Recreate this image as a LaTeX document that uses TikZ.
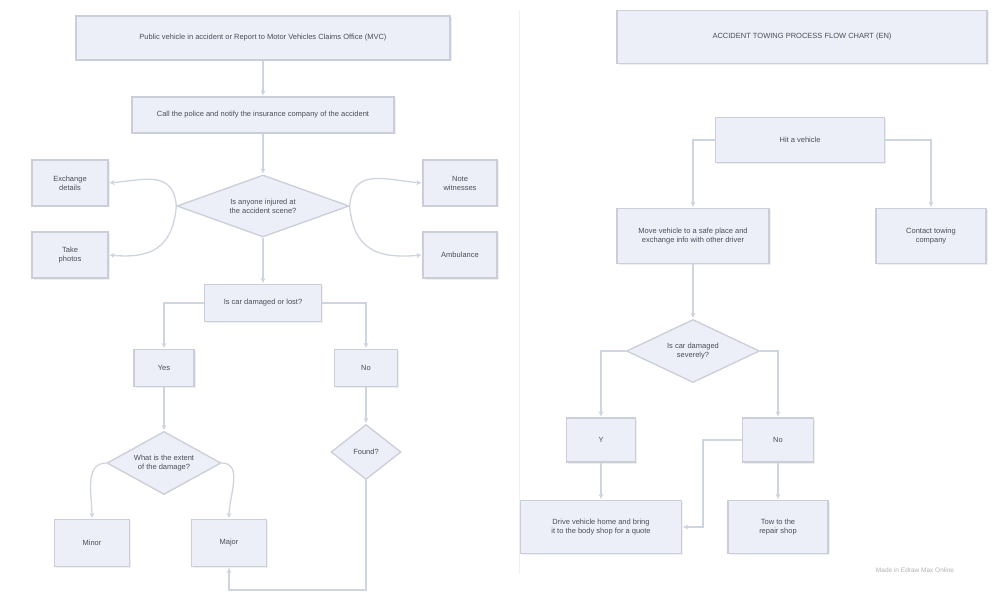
\documentclass[tikz,border=0pt]{standalone}
\usepackage{fontspec}
\setmainfont{Liberation Sans}
\usetikzlibrary{shapes.geometric,shadows,arrows.meta}
\definecolor{boxfill}{HTML}{ECEFF7}
\definecolor{boxline}{HTML}{CACED7}
\definecolor{linkline}{HTML}{CFD5DF}
\definecolor{textgray}{HTML}{4A4E58}

\begin{document}
\begin{tikzpicture}[x=1pt,y=-1pt,shorten >=1pt,->,>={Stealth[length=5pt,width=5pt]}]
        \tikzstyle{box}=[rectangle,draw=boxline,line width=1.3pt,fill=boxfill,align=center,text=textgray,font=\fontsize{7.5}{9}\selectfont,drop shadow={opacity=0.12,shadow xshift=1.5pt,shadow yshift=-1.5pt}]
        \tikzstyle{decision}=[diamond,draw=boxline,line width=1.3pt,fill=boxfill,align=center,text=textgray,inner sep=0pt,font=\fontsize{7.5}{9}\selectfont]
        \tikzstyle{edge}=[draw=linkline,line width=1.3pt]

        \fill[white] (0,0) rectangle (1008,612);
        \useasboundingbox (0,0) rectangle (1008,612);

        % left chart
        \begin{scope}
                \node [box,minimum width=374,minimum height=44] (ltitle) at (263,38) {Public vehicle in accident or Report to Motor Vehicles Claims Office (MVC)};
                \node [box,minimum width=262,minimum height=36] (report) at (263,115) {Call the police and notify the insurance company of the accident};
                \node [decision,aspect=2.9,minimum width=172,minimum height=62] (injury) at (263,206) {Is anyone injured at\\the accident scene?};
                \node [box,minimum width=76,minimum height=46] (swap) at (70,183) {Exchange\\details};
                \node [box,minimum width=76,minimum height=46] (photo) at (70,255) {Take\\photos};
                \node [box,minimum width=74,minimum height=46] (witness) at (460,183) {Note\\witnesses};
                \node [box,minimum width=74,minimum height=46] (ambulance) at (460,255) {Ambulance};
                \node [box,minimum width=117,minimum height=37] (damage) at (263,303) {Is car damaged or lost?};
                \node [box,minimum width=60,minimum height=37] (damaged) at (164,368) {Yes};
                \node [box,minimum width=63,minimum height=37] (lost) at (366,368) {No};
                \node [decision,aspect=1.9,minimum width=114,minimum height=63] (level) at (164,463) {What is the extent\\of the damage?};
                \node [decision,aspect=1.3,minimum width=70,minimum height=55] (found) at (366,452) {Found?};
                \node [box,minimum width=75,minimum height=47] (minor) at (92,543) {Minor};
                \node [box,minimum width=75,minimum height=47] (major) at (229,543) {Major};
                \coordinate (back) at (366,590);

                \draw[edge] (ltitle) -- (report);
                \draw[edge] (report) -- (injury);
                \draw[edge] (injury.west) to[out=95,in=5,looseness=1.3] (swap.east);
                \draw[edge] (injury.west) to[out=-95,in=-5,looseness=1.3] (photo.east);
                \draw[edge] (injury.east) to[out=85,in=175,looseness=1.3] (witness.west);
                \draw[edge] (injury.east) to[out=-85,in=185,looseness=1.3] (ambulance.west);
                \draw[edge] (injury) -- (damage);
                \draw[edge] (damage.west) -| (damaged.north);
                \draw[edge] (damage.east) -| (lost.north);
                \draw[edge] (damaged) -- (level);
                \draw[edge] (lost) -- (found);
                \draw[edge] (level.west) to[out=180,in=90] (minor.north);
                \draw[edge] (level.east) to[out=0,in=90] (major.north);
                \draw[edge] (found.south) -- (back) -| (major.south);
        \end{scope}

        \draw[-,draw=gray!12,line width=1pt] (519,10) -- (519,575);

        % right chart
        \begin{scope}
                \node [box,minimum width=370,minimum height=53] (rtitle) at (802,37) {ACCIDENT TOWING PROCESS FLOW CHART (EN)};
                \node [box,minimum width=169,minimum height=45] (hit) at (800,140) {Hit a vehicle};
                \node [box,minimum width=152,minimum height=55] (move) at (693,236) {Move vehicle to a safe place and\\exchange info with other driver};
                \node [box,minimum width=110,minimum height=55] (tow) at (931,236) {Contact towing\\company};
                \node [decision,aspect=2.1,minimum width=133,minimum height=63] (drivable) at (693,351) {Is car damaged\\severely?};
                \node [box,minimum width=69,minimum height=44] (yes) at (601,440) {Y};
                \node [box,minimum width=71,minimum height=44] (no) at (778,440) {No};
                \node [box,minimum width=161,minimum height=53] (drive) at (601,527) {Drive vehicle home and bring\\it to the body shop for a quote};
                \node [box,minimum width=100,minimum height=53] (shop) at (778,527) {Tow to the\\repair shop};
                \coordinate (jog) at (703,440);

                \draw[edge] (hit.west) -| (move.north);
                \draw[edge] (hit.east) -| (tow.north);
                \draw[edge] (move) -- (drivable);
                \draw[edge] (drivable.west) -| (yes.north);
                \draw[edge] (drivable.east) -| (no.north);
                \draw[edge] (yes) -- (drive);
                \draw[edge] (no) -- (shop);
                \draw[edge] (no.west) -- (jog) |- (drive.east);
        \end{scope}

        \node [text=gray!60,font=\fontsize{6.5}{8}\selectfont] (mark) at (915,570) {Made in Edraw Max Online};
\end{tikzpicture}
\end{document}
